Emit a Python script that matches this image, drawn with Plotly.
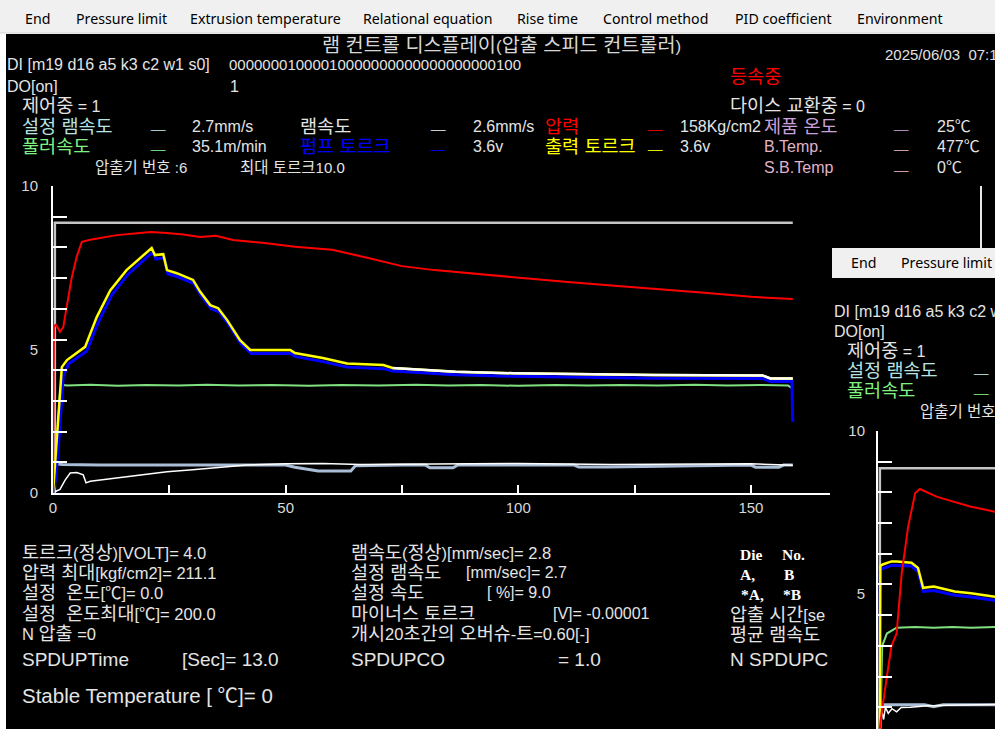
import re
import plotly.graph_objects as go

# ---------------- data ----------------
# main run (time in s, values in chart units 0-10)
FRAME_T = [0.4, 0.4, 159]
FRAME_V = [0, 8.8, 8.8]

PRESSURE_T = [0, 0.2, 0.6, 1.5, 2.2, 2.9, 4.0, 5.1, 6.2, 8, 10, 13.7, 18.7, 21, 24.5, 28, 31.6, 35,
              38.7, 45, 52, 60, 68, 75, 82, 90, 100, 110, 120, 130, 140, 150, 155, 159]
PRESSURE_V = [0, 5.4, 5.5, 5.25, 5.4, 6.05, 7.0, 7.7, 8.18, 8.25, 8.3, 8.4, 8.47, 8.5, 8.47, 8.42, 8.34, 8.38,
              8.24, 8.15, 8.02, 7.92, 7.65, 7.39, 7.26, 7.15, 7.0, 6.88, 6.76, 6.65, 6.52, 6.39, 6.36, 6.32]

OUT_TORQUE_T = [0, 0.4, 1.1, 1.9, 3.0, 5.1, 6.9, 9.4, 12.3, 15.8, 18.7, 21.2, 21.9, 23.7, 24.5, 26.6, 30.1,
                31.6, 33.8, 35.5, 37.4, 40.2, 42.4, 51, 52, 58, 63.2, 71, 73, 81, 86.5, 99, 112.7, 129,
                152.5, 154.2, 159]
OUT_TORQUE_V = [0, 0.8, 2.3, 4.1, 4.33, 4.55, 4.76, 5.73, 6.6, 7.26, 7.65, 7.98, 7.75, 7.78, 7.26, 7.16, 6.94,
                6.56, 6.12, 6.02, 5.64, 4.98, 4.66, 4.66, 4.56, 4.4, 4.22, 4.17, 4.07, 4.0, 3.95, 3.9, 3.87, 3.84,
                3.83, 3.73, 3.73]

PUMP_TORQUE_T = [0, 0.6, 1.3, 2.2, 3.3, 5.3, 7.2, 9.7, 12.6, 16.1, 19.0, 21.4, 22.1, 23.9, 24.7, 26.8, 30.3,
                 31.8, 34.0, 35.7, 37.6, 40.4, 42.6, 51, 52.2, 58, 63.2, 71, 73, 81, 86.5, 99, 112.7, 129,
                 152.5, 154.2, 158.8, 159]
PUMP_TORQUE_V = [0, 0.5, 1.8, 3.8, 4.2, 4.42, 4.62, 5.55, 6.45, 7.12, 7.52, 7.85, 7.62, 7.66, 7.14, 7.04, 6.82,
                 6.44, 6.0, 5.9, 5.52, 4.86, 4.54, 4.54, 4.44, 4.28, 4.1, 4.05, 3.97, 3.9, 3.85, 3.8, 3.77, 3.74,
                 3.73, 3.63, 3.63, 2.32]

WHITE_T = [73, 81, 86.5, 99, 112.7, 129, 152.5, 154.2, 159]
WHITE_V = [4.07, 4.0, 3.95, 3.9, 3.87, 3.84, 3.83, 3.73, 3.73]

PULLER_T = [0, 0.3, 0.8, 1.5, 2.2, 3, 8, 14, 20, 27, 33, 40, 47, 55, 62, 70, 78, 85, 92, 100, 108, 115,
            122, 130, 138, 145, 152, 158, 159]
PULLER_V = [0, 0.2, 1.5, 3.25, 3.52, 3.5, 3.53, 3.49, 3.52, 3.5, 3.53, 3.5, 3.52, 3.49, 3.52, 3.5, 3.53,
            3.5, 3.52, 3.49, 3.52, 3.5, 3.52, 3.5, 3.53, 3.5, 3.52, 3.5, 3.4]

RAM_T = [0, 0.3, 0.6, 2, 10, 30, 50, 52, 57, 64, 65, 75, 80, 81, 86, 87, 100, 112, 113, 119, 150, 151,
         156, 157, 159]
RAM_V = [0, 0.3, 0.95, 0.93, 0.91, 0.91, 0.91, 0.84, 0.72, 0.72, 0.89, 0.91, 0.91, 0.82, 0.82, 0.91, 0.91,
         0.91, 0.85, 0.85, 0.91, 0.84, 0.84, 0.91, 0.91]

LOW_T = [0, 0.5, 1.5, 2.6, 3.7, 5.1, 6.5, 7.1, 8, 15, 24.5, 30, 36, 41.7, 50, 58, 66, 75, 90, 100, 120, 150, 159]
LOW_V = [0, 0.05, 0.12, 0.42, 0.65, 0.67, 0.59, 0.33, 0.38, 0.52, 0.69, 0.76, 0.83, 0.91, 0.95, 0.96, 0.93,
         0.93, 0.95, 0.96, 0.93, 0.95, 0.9]

# second (overlapping) window run
M_FRAME_T = [0.4, 0.4, 25.2]
M_FRAME_V = [0, 8.79, 8.79]
M_PRESSURE_T = [0.4, 0.6, 1.9, 2.9, 4.0, 5.1, 6.5, 8.0, 9.0, 12.6, 16.2, 19.8, 25.2]
M_PRESSURE_V = [0.3, 0.6, 2.0, 3.0, 3.4, 5.37, 6.9, 7.98, 8.11, 7.86, 7.7, 7.54, 7.37]
M_TORQUE_T = [0.35, 0.4, 0.5, 1.0, 2.9, 4.0, 7.2, 8.6, 9.7, 12, 16.5, 20, 24, 25.2]
M_OUT_TORQUE_V = [0.3, 2.7, 5.6, 5.65, 5.75, 5.75, 5.71, 5.54, 4.89, 4.93, 4.77, 4.71, 4.63, 4.6]
M_PUMP_TORQUE_V = [0.3, 2.5, 5.45, 5.52, 5.62, 5.62, 5.6, 5.42, 4.77, 4.8, 4.65, 4.59, 4.51, 4.48]
M_PULLER_T = [0.5, 0.7, 0.9, 1.9, 4, 8, 12, 16, 20, 25.2]
M_PULLER_V = [0.3, 2.2, 3.0, 3.4, 3.59, 3.61, 3.59, 3.61, 3.59, 3.61]
M_LOW_T = [0.5, 0.8, 1.2, 1.6, 2.2, 3, 4, 5, 7, 10, 15, 20, 25.2]
M_LOW_V = [0.4, 0.9, 0.6, 1.0, 0.8, 0.95, 0.85, 0.99, 1.0, 1.04, 1.06, 1.07, 1.09]
M_RAM_T = [0.4, 0.6, 10, 12, 14, 25.2]
M_RAM_V = [0.3, 1.08, 1.08, 1.02, 1.08, 1.08]

X_TICKS = [0, 25, 50, 75, 100, 125, 150]
X_TICKTEXT = ["0", "", "50", "", "100", "", "150"]
Y_TICKS = [0, 1, 2, 3, 4, 5, 6, 7, 8, 9, 10]
Y_TICKTEXT = ["0", "", "", "", "", "\u00a0<br>5", "", "", "", "", "10"]

MENU = [("End", 25), ("Pressure limit", 76), ("Extrusion temperature", 190), ("Relational equation", 363),
        ("Rise time", 517), ("Control method", 603), ("PID coefficient", 735), ("Environment", 857)]

# ---------------- figure ----------------
W, H = 995, 729
SANS = "Liberation Sans, Noto Sans CJK KR, sans-serif"
UI = "Noto Sans, Open Sans, sans-serif"
FG = "#e4e4e4"
HANGUL = re.compile(r"([\uac00-\ud7a3]+(?:[ \u00a0]+[\uac00-\ud7a3]+)*)")


def px(x):
    return x / W


def py(y):
    return 1 - y / H


def widen_hangul(s, size, scale):
    k = round(size * scale, 1)
    return HANGUL.sub(lambda m: '<span style="font-size:%spx">%s</span>' % (k, m.group(1)), s)


fig = go.Figure()


def line(xs, ys, color, width, xa="x", ya="y"):
    fig.add_trace(go.Scatter(x=xs, y=ys, mode="lines", line=dict(color=color, width=width),
                             xaxis=xa, yaxis=ya, hoverinfo="skip", showlegend=False))


# main chart traces
line(FRAME_T, FRAME_V, "#c4c4c4", 2.5)
line(RAM_T, RAM_V, "#a9bdd6", 3)
line(LOW_T, LOW_V, "#ffffff", 1.5)
line(PULLER_T, PULLER_V, "#80e080", 2)
line(PUMP_TORQUE_T, PUMP_TORQUE_V, "#0000ff", 3)
line(OUT_TORQUE_T, OUT_TORQUE_V, "#ffff00", 2.5)
line(WHITE_T, WHITE_V, "#ffffff", 2.5)
line(PRESSURE_T, PRESSURE_V, "#ff0000", 2)

# inset chart traces
line(M_FRAME_T, M_FRAME_V, "#c4c4c4", 2.5, "x2", "y2")
line(M_RAM_T, M_RAM_V, "#a9bdd6", 3, "x2", "y2")
line(M_LOW_T, M_LOW_V, "#ffffff", 1.5, "x2", "y2")
line(M_PULLER_T, M_PULLER_V, "#80e080", 2, "x2", "y2")
line(M_TORQUE_T, M_PUMP_TORQUE_V, "#0000ff", 3, "x2", "y2")
line(M_TORQUE_T, M_OUT_TORQUE_V, "#ffff00", 2.5, "x2", "y2")
line(M_PRESSURE_T, M_PRESSURE_V, "#ff0000", 2, "x2", "y2")

annotations = []


def txt(x, y, s, color=FG, size=16, family=SANS, anchor="left", weight="normal", kscale=1.16):
    annotations.append(dict(x=px(x), y=py(y), xref="paper", yref="paper",
                            text=widen_hangul(s, size, kscale),
                            showarrow=False, xanchor=anchor, yanchor="middle",
                            font=dict(color=color, size=size, family=family, weight=weight)))


# menu bars
for label, x in MENU:
    txt(x - 2, 18, label, color="#000000", size=14.2, family=UI)
txt(849, 263, "End", color="#000000", size=14.2, family=UI)
txt(899, 263, "Pressure limit", color="#000000", size=14.2, family=UI)

# header
CYAN = "#b8e2e2"
GREEN = "#80f080"
VIOLET = "#c8a0dc"
PINK = "#e0b4c8"
txt(501, 45, "램 컨트롤 디스플레이(압출 스피드 컨트롤러)", color="#d8d8d8", size=17, anchor="center")
txt(883, 54, "2025/06/03\u00a0\u00a007:13", color="#e0e0e0", size=15)
txt(5, 64, "DI [m19 d16 a5 k3 c2 w1 s0]")
txt(227, 64, "00000001000010000000000000000000100", size=15)
txt(5, 86, "DO[on]")
txt(228, 86, "1")
txt(20, 105, "제어중 = 1")
txt(728, 76, "등속중", color="#ff0000")
txt(728, 105, "다이스 교환중 = 0")

ROW1, ROW2, ROW3 = 126, 146, 167
txt(20, ROW1, "설정 램속도", color=CYAN)
txt(148, ROW1 - 3, "__", color=CYAN, size=13)
txt(190, ROW1, "2.7mm/s")
txt(298, ROW1, "램속도")
txt(428, ROW1 - 3, "__", size=13)
txt(471, ROW1, "2.6mm/s")
txt(543, ROW1, "압력", color="#ff0000")
txt(645, ROW1 - 3, "__", color="#ff0000", size=13)
txt(678, ROW1, "158Kg/cm2")
txt(762, ROW1, "제품 온도", color=VIOLET)
txt(891, ROW1 - 3, "__", color=VIOLET, size=13)
txt(935, ROW1, "25℃")

txt(20, ROW2, "풀러속도", color=GREEN)
txt(148, ROW2 - 3, "__", color=GREEN, size=13)
txt(190, ROW2, "35.1m/min")
txt(298, ROW2, "펌프 토르크", color="#0000ff")
txt(428, ROW2 - 3, "__", color="#0000ff", size=13)
txt(471, ROW2, "3.6v")
txt(543, ROW2, "출력 토르크", color="#ffff00")
txt(645, ROW2 - 3, "__", color="#ffff00", size=13)
txt(678, ROW2, "3.6v")
txt(762, ROW2, "B.Temp.", color=PINK)
txt(891, ROW2 - 3, "__", color=PINK, size=13)
txt(935, ROW2, "477℃")

txt(93, ROW3, "압출기 번호 :6", size=15, kscale=1.03)
txt(238, ROW3, "최대 토르크10.0", size=15, kscale=1.03)
txt(762, ROW3, "S.B.Temp", color=PINK)
txt(891, ROW3 - 3, "__", color=PINK, size=13)
txt(935, ROW3, "0℃")

# bottom info block
L, M, R = 20, 349, 728
BS, BK = 16.5, 1.12
txt(L, 552, "토르크(정상)[VOLT]= 4.0", size=BS, kscale=BK)
txt(L, 572, "압력 최대[kgf/cm2]= 211.1", size=BS, kscale=BK)
txt(L, 592, "설정\u00a0\u00a0온도[℃]= 0.0", size=BS, kscale=BK)
txt(L, 613, "설정\u00a0\u00a0온도최대[℃]= 200.0", size=BS, kscale=BK)
txt(L, 633, "N 압출 =0", size=BS, kscale=BK)
txt(L, 659, "SPDUPTime", size=19)
txt(180, 659, "[Sec]= 13.0", size=19)
txt(L, 695, "Stable Temperature [ ℃]= 0", size=20.5)

txt(M, 552, "램속도(정상)[mm/sec]= 2.8", size=BS, kscale=BK)
txt(M, 572, "설정 램속도", size=BS, kscale=BK)
txt(464, 572, "[mm/sec]= 2.7", size=16)
txt(M, 592, "설정 속도", size=BS, kscale=BK)
txt(485, 592, "[ %]= 9.0", size=16)
txt(M, 613, "마이너스 토르크", size=BS, kscale=BK)
txt(551, 613, "[V]= -0.00001", size=16)
txt(M, 633, "개시20초간의 오버슈-트=0.60[-]", size=BS, kscale=BK)
txt(M, 659, "SPDUPCO", size=19)
txt(556, 659, "= 1.0", size=19)

SERIF = "Liberation Serif, serif"
txt(738, 554, "Die", size=15.5, family=SERIF, weight="bold", color="#ffffff")
txt(780, 554, "No.", size=15.5, family=SERIF, weight="bold", color="#ffffff")
txt(738, 574, "A,", size=15.5, family=SERIF, weight="bold", color="#ffffff")
txt(782, 574, "B", size=15.5, family=SERIF, weight="bold", color="#ffffff")
txt(739, 594, "*A,", size=15.5, family=SERIF, weight="bold", color="#ffffff")
txt(781, 594, "*B", size=15.5, family=SERIF, weight="bold", color="#ffffff")
txt(R, 614, "압출 시간[se", size=BS, kscale=BK)
txt(R, 634, "평균 램속도", size=BS, kscale=BK)
txt(R, 659, "N SPDUPC", size=19)

# inset window header
txt(832, 311, "DI [m19 d16 a5 k3 c2 w1 s0]")
txt(832, 331, "DO[on]")
txt(845, 350, "제어중 = 1")
txt(845, 370, "설정 램속도", color=CYAN)
txt(971, 367, "__", color=CYAN, size=13)
txt(845, 390, "풀러속도", color=GREEN)
txt(971, 387, "__", color=GREEN, size=13)
txt(918, 411, "압출기 번호 :6", size=15, kscale=1.03)

shapes = [
    dict(type="rect", xref="paper", yref="paper", x0=0, x1=1, y0=py(33), y1=1,
         fillcolor="#f0f0f0", line=dict(width=0), layer="below"),
    dict(type="line", xref="paper", yref="paper", x0=0, x1=1, y0=py(33), y1=py(33),
         line=dict(color="#d4d4d4", width=1), layer="below"),
    dict(type="rect", xref="paper", yref="paper", x0=px(6), x1=1, y0=0, y1=py(34),
         fillcolor="#000000", line=dict(width=0), layer="below"),
    dict(type="rect", xref="paper", yref="paper", x0=px(832), x1=1, y0=py(278), y1=py(248),
         fillcolor="#f0f0f0", line=dict(width=0), layer="below"),
    dict(type="line", xref="paper", yref="paper", x0=px(981), x1=px(981), y0=py(248), y1=py(186),
         line=dict(color="#e8e8e8", width=2), layer="below"),
]

TICKFONT = dict(color="#d8d8d8", size=15, family=SANS)

fig.update_layout(
    width=W, height=H, margin=dict(l=0, r=0, t=0, b=0, pad=0, autoexpand=False),
    paper_bgcolor="#ffffff", plot_bgcolor="rgba(0,0,0,0)",
    showlegend=False, hovermode=False,
    annotations=annotations, shapes=shapes,
    xaxis=dict(domain=[px(53), px(830)], range=[0, 167], showline=True, linecolor="#ffffff", linewidth=2,
               ticks="inside", ticklen=8, tickwidth=2, tickcolor="#ffffff",
               tickvals=X_TICKS, ticktext=X_TICKTEXT, tickfont=TICKFONT, automargin=False,
               showgrid=False, zeroline=False, anchor="y", fixedrange=True),
    yaxis=dict(domain=[py(493), py(186)], range=[0, 10], showline=True, linecolor="#ffffff", linewidth=2,
               ticks="inside", ticklen=14, tickwidth=2, tickcolor="#ffffff", automargin=False,
               tickvals=Y_TICKS, ticktext=Y_TICKTEXT, tickfont=TICKFONT, ticklabelstandoff=10,
               showgrid=False, zeroline=False, anchor="x", fixedrange=True),
    xaxis2=dict(domain=[px(878), 1], range=[0, 25.16], visible=False, anchor="y2", fixedrange=True,
                automargin=False),
    yaxis2=dict(domain=[0, py(431)], range=[0.29, 10], showline=True, linecolor="#ffffff", linewidth=2,
                ticks="inside", ticklen=14, tickwidth=2, tickcolor="#ffffff", automargin=False,
                tickvals=Y_TICKS[1:], ticktext=Y_TICKTEXT[1:], tickfont=TICKFONT, ticklabelstandoff=8,
                showgrid=False, zeroline=False, anchor="x2", fixedrange=True),
)

fig.write_html("out.html", config={"displayModeBar": False, "staticPlot": True})
